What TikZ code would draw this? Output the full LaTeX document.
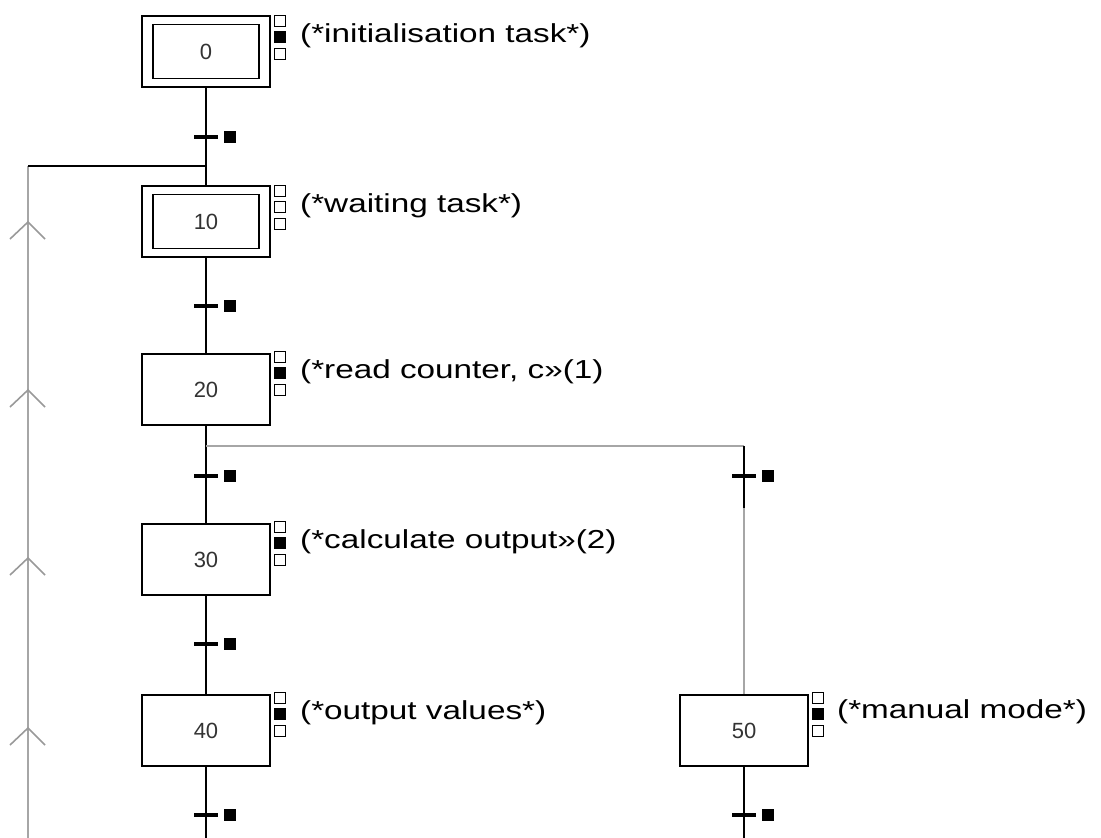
\documentclass[tikz,border=0pt]{standalone}
\usepackage{fontspec}
\setmainfont{Liberation Sans}
\newfontfamily\lblfont[FakeStretch=1.28]{Liberation Sans}
\begin{document}
\begin{tikzpicture}[x=1pt,y=-1pt,
  blk/.style={line width=2pt, draw=black},
  gry/.style={line width=2pt, draw=black!35},
  stepbox/.style={draw, line width=1.8pt, minimum width=128pt, minimum height=71pt, inner sep=0pt, font=\fontsize{22}{24}\selectfont, text=black!80},
  innerbox/.style={draw, line width=1.8pt, minimum width=106pt, minimum height=54pt, inner sep=0pt, font=\fontsize{22}{24}\selectfont, text=black!80},
  ind/.style={draw, line width=1.3pt, minimum width=11pt, minimum height=11pt, inner sep=0pt, fill=white},
  indf/.style={ind, fill=black},
  trbar/.style={line width=3.5pt},
  trsq/.style={fill=black, minimum size=12pt, inner sep=0pt},
  lbl/.style={anchor=base west, inner sep=0pt, font=\lblfont\fontsize{26}{30}\selectfont},
  chev/.style={line width=1.6pt, draw=black!40}
]
\useasboundingbox (0,0) rectangle (1101,838);

% steps
\node[stepbox] (s0) at (206,51.5) {};
\node[innerbox] (s0i) at (s0.center) {0};
\node[stepbox] (s10) at (206,221.5) {};
\node[innerbox] (s10i) at (s10.center) {10};
\node[stepbox] (s20) at (206,389.5) {20};
\node[stepbox] (s30) at (206,559.5) {30};
\node[stepbox] (s40) at (206,730.5) {40};
\node[stepbox] (s50) at (744,730.5) {50};

% indicators
\foreach \T/\nm/\f in {15/a/indf,185/b/ind,351/c/indf,521/d/indf,692/e/indf}{
  \node[ind] (i\nm1) at (280,\T+6) {};
  \node[\f] (i\nm2) at (280,\T+22) {};
  \node[ind] (i\nm3) at (280,\T+39) {};
}
\node[ind] (if1) at (818,698) {};
\node[indf] (if2) at (818,714) {};
\node[ind] (if3) at (818,731) {};

% labels
\node[lbl] (l0) at (300,42) {(*initialisation task*)};
\node[lbl] (l10) at (300,212) {(*waiting task*)};
\node[lbl] (l20) at (300,378) {(*read counter, c»(1)};
\node[lbl] (l30) at (300,548) {(*calculate output»(2)};
\node[lbl] (l40) at (300,719) {(*output values*)};
\node[lbl] (l50) at (837,718) {(*manual mode*)};

% coordinates
\coordinate (j0) at (206,166);
\coordinate (lc) at (28,166);
\coordinate (lb) at (28,838);
\coordinate (j20) at (206,446);
\coordinate (j21) at (744,446);
\coordinate (j22) at (744,508);
\coordinate (e40) at (206,838);
\coordinate (e50) at (744,838);
\coordinate (t0) at (206,137);
\coordinate (t1) at (206,306);
\coordinate (t2) at (206,476);
\coordinate (t3) at (206,644);
\coordinate (t4) at (206,815);
\coordinate (t5) at (744,476);
\coordinate (t6) at (744,815);

% connectors
\draw[gry] (lb) -- (lc);
\draw[blk] (lc) -- (j0);
\draw[blk] (s0.south) -- (s10.north);
\draw[blk] (s10.south) -- (s20.north);
\draw[blk] (s20.south) -- (s30.north);
\draw[gry] (j20) -- (j21);
\draw[blk] (j21) -- (j22);
\draw[gry] (j22) -- (s50.north);
\draw[blk] (s30.south) -- (s40.north);
\draw[blk] (s40.south) -- (e40);
\draw[blk] (s50.south) -- (e50);

% chevrons on loop
\foreach \y in {222,390,558,728}{
  \draw[chev] (10,\y+17) -- (28,\y) -- (45,\y+17);
}

% transitions
\foreach \t in {t0,t1,t2,t3,t4,t5,t6}{
  \draw[trbar] ([xshift=-12pt]\t) -- ([xshift=12pt]\t);
  \node[trsq] at ([xshift=23.5pt]\t) {};
}
\end{tikzpicture}
\end{document}
